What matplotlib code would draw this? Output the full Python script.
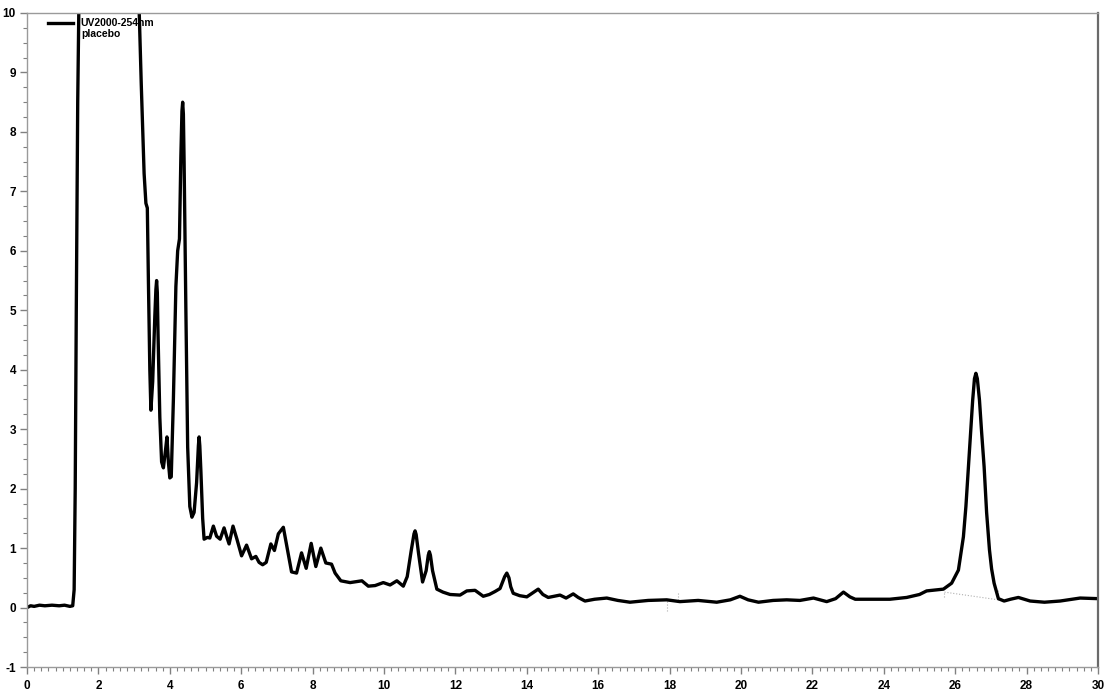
import numpy as np
import matplotlib.pyplot as plt
from matplotlib.lines import Line2D
from matplotlib.ticker import MultipleLocator

plt.rcParams['font.family'] = ['Liberation Sans', 'DejaVu Sans']
plt.rcParams['axes.unicode_minus'] = False

# retention time (min) and signal
t = [0.00, 0.10, 0.20, 0.35, 0.50, 0.70, 0.90, 1.05, 1.20, 1.28,
     1.32, 1.35, 1.38, 1.42, 1.46, 1.50, 2.30, 3.05,
     3.12, 3.20, 3.28, 3.33, 3.37, 3.40, 3.44, 3.47, 3.52, 3.58,
     3.61, 3.63, 3.65, 3.67, 3.72, 3.77, 3.82, 3.88, 3.92, 3.96, 4.00, 4.04,
     4.10, 4.17, 4.22, 4.27, 4.31, 4.34, 4.36, 4.38, 4.40, 4.45, 4.50, 4.56,
     4.62, 4.68, 4.75, 4.80, 4.82, 4.84, 4.87, 4.92, 4.96, 5.05, 5.12, 5.22,
     5.31, 5.41, 5.52, 5.60, 5.66, 5.77, 5.88, 6.01, 6.15, 6.29,
     6.41, 6.50, 6.60, 6.70, 6.83, 6.93, 7.04, 7.18, 7.28, 7.41,
     7.55, 7.69, 7.82, 7.96, 8.09, 8.23, 8.37, 8.53, 8.63, 8.79,
     9.05, 9.38, 9.56, 9.75, 9.98, 10.17, 10.36, 10.54, 10.65, 10.76, 10.84,
     10.87, 10.90, 10.97, 11.08, 11.18, 11.24, 11.27, 11.30, 11.36, 11.48, 11.65, 11.85, 12.13,
     12.32, 12.55, 12.78, 12.95, 13.11, 13.25, 13.38, 13.44, 13.50, 13.55, 13.62, 13.80,
     14.00, 14.32, 14.45, 14.60, 14.93, 15.10, 15.30, 15.44, 15.63, 15.90,
     16.24, 16.55, 16.89, 17.40, 17.92, 18.29, 18.80, 19.32, 19.70, 19.97,
     20.20, 20.49, 20.90, 21.28, 21.65, 22.03, 22.40, 22.65, 22.87, 23.05,
     23.20, 23.60, 24.17, 24.64, 25.00, 25.20, 25.67, 25.90, 26.09, 26.23,
     26.30, 26.37, 26.43, 26.49, 26.54, 26.58, 26.62, 26.68, 26.74, 26.81,
     26.88, 26.96, 27.02, 27.09, 27.21, 27.37, 27.55, 27.77, 28.10, 28.50,
     28.94, 29.50, 30.00]
signal = [0.00, 0.03, 0.02, 0.04, 0.03, 0.04, 0.03, 0.04, 0.02, 0.03,
          0.30, 2.00, 5.00, 8.50, 10.5, 12.0, 13.0, 12.0,
          10.5, 8.80, 7.30, 6.80, 6.72, 5.50, 4.00, 3.32, 3.80, 4.90,
          5.35, 5.50, 5.30, 4.60, 3.20, 2.45, 2.35, 2.65, 2.87, 2.45, 2.18, 2.20,
          3.50, 5.40, 6.00, 6.20, 7.60, 8.35, 8.50, 8.30, 7.50, 5.00, 2.70, 1.70,
          1.52, 1.60, 2.10, 2.72, 2.87, 2.72, 2.30, 1.50, 1.15, 1.18, 1.17, 1.37,
          1.20, 1.15, 1.34, 1.18, 1.07, 1.37, 1.15, 0.87, 1.05, 0.82,
          0.86, 0.76, 0.72, 0.76, 1.07, 0.96, 1.24, 1.35, 1.02, 0.60,
          0.58, 0.92, 0.66, 1.08, 0.69, 1.00, 0.75, 0.73, 0.58, 0.45,
          0.42, 0.45, 0.36, 0.37, 0.42, 0.38, 0.45, 0.36, 0.52, 0.95, 1.24,
          1.29, 1.23, 0.90, 0.43, 0.62, 0.88, 0.94, 0.88, 0.62, 0.31, 0.26, 0.22, 0.21,
          0.28, 0.29, 0.19, 0.22, 0.27, 0.32, 0.52, 0.58, 0.50, 0.35, 0.24, 0.20,
          0.18, 0.31, 0.22, 0.17, 0.21, 0.16, 0.23, 0.17, 0.11, 0.14,
          0.16, 0.12, 0.09, 0.12, 0.13, 0.10, 0.12, 0.09, 0.13, 0.19,
          0.13, 0.09, 0.12, 0.13, 0.12, 0.16, 0.10, 0.15, 0.26, 0.18,
          0.14, 0.14, 0.14, 0.17, 0.22, 0.28, 0.31, 0.41, 0.63, 1.19,
          1.70, 2.37, 2.95, 3.49, 3.85, 3.94, 3.85, 3.49, 2.95, 2.37,
          1.60, 0.97, 0.65, 0.41, 0.15, 0.11, 0.14, 0.17, 0.11, 0.09,
          0.11, 0.16, 0.15]

# integration baseline marks (dotted grey)
base_t = [25.70, 25.70, 27.21, 27.21]
base_y = [0.18, 0.26, 0.13, 0.30]
mark_t = [17.92, 17.92, 18.23, 18.23]
mark_y = [-0.05, 0.13, 0.12, 0.25]

fig = plt.figure(figsize=(11.12, 6.91), dpi=100)
ax = fig.add_axes([0.0243, 0.0347, 0.9631, 0.9465])

ax.plot(base_t[1:3], base_y[1:3], color='#b0b0b0', lw=0.8, ls=':')
ax.plot(base_t[:2], base_y[:2], color='#b0b0b0', lw=0.8, ls=':')
ax.plot(base_t[2:], base_y[2:], color='#b0b0b0', lw=0.8, ls=':')
ax.plot(mark_t[:2], mark_y[:2], color='#b0b0b0', lw=0.8, ls=':')
ax.plot(mark_t[2:], mark_y[2:], color='#b0b0b0', lw=0.8, ls=':')

ax.plot(t, signal, color='black', lw=2.4, solid_joinstyle='round')

ax.set_xlim(0, 30)
ax.set_ylim(-1, 10)
ax.xaxis.set_major_locator(MultipleLocator(2))
ax.xaxis.set_minor_locator(MultipleLocator(0.2))
ax.yaxis.set_major_locator(MultipleLocator(1))
ax.yaxis.set_minor_locator(MultipleLocator(0.25))
ax.tick_params(which='major', length=5, width=1, color='#808080', labelsize=8.5)
ax.tick_params(axis='x', which='major', pad=4)
ax.tick_params(axis='y', which='major', pad=3)
ax.tick_params(which='minor', length=3, width=0.8, color='#808080')
for lab in ax.get_xticklabels() + ax.get_yticklabels():
    lab.set_fontweight('bold')

for side in ['left', 'bottom', 'top']:
    ax.spines[side].set_color('#9a9a9a')
    ax.spines[side].set_linewidth(1)
ax.spines['right'].set_color('#6a6a6a')
ax.spines['right'].set_linewidth(1.6)

handles = [Line2D([], [], color='black', lw=2.4), Line2D([], [], color='none')]
ax.legend(handles, ['UV2000-254nm', 'placebo'], loc='upper left',
          bbox_to_anchor=(0.0196, 0.992), frameon=False, borderpad=0,
          borderaxespad=0, handlelength=2.4, handletextpad=0.75,
          labelspacing=0.05, prop={'size': 7.5, 'weight': 'bold'})

fig.savefig('out.png', dpi=100)
